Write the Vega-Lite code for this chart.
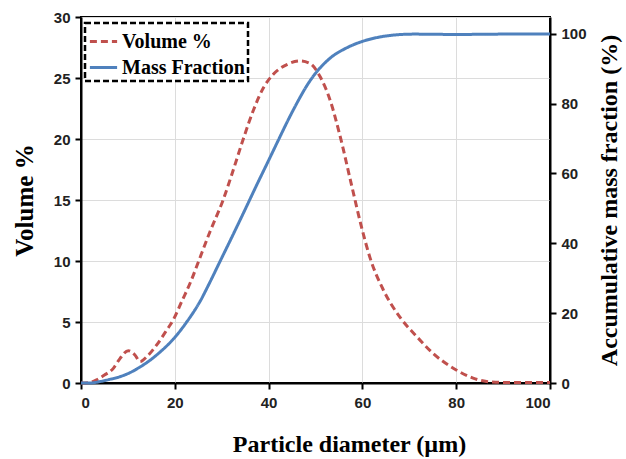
{
  "$schema": "https://vega.github.io/schema/vega-lite/v6.json",
  "width": 469,
  "height": 366,
  "autosize": {"type": "none"},
  "padding": {"left": 81, "top": 17, "right": 76, "bottom": 76},
  "background": "white",
  "config": {
    "view": {"stroke": "black", "strokeWidth": 2},
    "axis": {
      "labelFont": "Liberation Sans", "labelFontWeight": "bold", "labelFontSize": 15, "labelColor": "#222",
      "titleFont": "Liberation Serif", "titleFontWeight": "bold", "titleFontSize": 24, "titleColor": "black",
      "domainColor": "black", "domainWidth": 2, "tickColor": "black", "tickWidth": 2, "tickSize": 6,
      "gridColor": "#dcdcdc", "gridWidth": 1
    },
    "legend": {"strokeColor": "black", "strokeDash": [6, 3], "strokeWidth": 2.5, "fillColor": "white"}
  },
  "data": {"values": [
    {"d": 0, "v": 0, "s": "Volume %"},
    {"d": 2, "v": 0.05, "s": "Volume %"},
    {"d": 3.3, "v": 0.25, "s": "Volume %"},
    {"d": 5, "v": 0.65, "s": "Volume %"},
    {"d": 6.9, "v": 1.2, "s": "Volume %"},
    {"d": 8.3, "v": 2.0, "s": "Volume %"},
    {"d": 10.1, "v": 2.65, "s": "Volume %"},
    {"d": 11.5, "v": 2.3, "s": "Volume %"},
    {"d": 12.6, "v": 1.75, "s": "Volume %"},
    {"d": 14, "v": 2.15, "s": "Volume %"},
    {"d": 16.1, "v": 3.1, "s": "Volume %"},
    {"d": 18.3, "v": 4.35, "s": "Volume %"},
    {"d": 19.7, "v": 5.2, "s": "Volume %"},
    {"d": 21.5, "v": 6.7, "s": "Volume %"},
    {"d": 23.5, "v": 8.4, "s": "Volume %"},
    {"d": 25, "v": 9.9, "s": "Volume %"},
    {"d": 27.5, "v": 12.4, "s": "Volume %"},
    {"d": 30.3, "v": 15.0, "s": "Volume %"},
    {"d": 32.5, "v": 17.5, "s": "Volume %"},
    {"d": 34.6, "v": 20.0, "s": "Volume %"},
    {"d": 36.8, "v": 22.4, "s": "Volume %"},
    {"d": 38.9, "v": 24.2, "s": "Volume %"},
    {"d": 41, "v": 25.3, "s": "Volume %"},
    {"d": 43.9, "v": 26.1, "s": "Volume %"},
    {"d": 46.7, "v": 26.4, "s": "Volume %"},
    {"d": 48.8, "v": 26.2, "s": "Volume %"},
    {"d": 51, "v": 25.1, "s": "Volume %"},
    {"d": 53.1, "v": 23.2, "s": "Volume %"},
    {"d": 55.2, "v": 20.3, "s": "Volume %"},
    {"d": 57.7, "v": 16.2, "s": "Volume %"},
    {"d": 60, "v": 12.5, "s": "Volume %"},
    {"d": 61.6, "v": 10.3, "s": "Volume %"},
    {"d": 64.5, "v": 7.6, "s": "Volume %"},
    {"d": 68, "v": 5.4, "s": "Volume %"},
    {"d": 71.6, "v": 3.8, "s": "Volume %"},
    {"d": 75, "v": 2.45, "s": "Volume %"},
    {"d": 80, "v": 1.07, "s": "Volume %"},
    {"d": 83.6, "v": 0.4, "s": "Volume %"},
    {"d": 86.5, "v": 0.12, "s": "Volume %"},
    {"d": 90, "v": 0.05, "s": "Volume %"},
    {"d": 95, "v": 0.05, "s": "Volume %"},
    {"d": 100, "v": 0.05, "s": "Volume %"},
    {"d": 0, "v": 0, "s": "Mass Fraction"},
    {"d": 2, "v": 0, "s": "Mass Fraction"},
    {"d": 4, "v": 0.4, "s": "Mass Fraction"},
    {"d": 6, "v": 1.0, "s": "Mass Fraction"},
    {"d": 8.3, "v": 1.8, "s": "Mass Fraction"},
    {"d": 10.5, "v": 3.0, "s": "Mass Fraction"},
    {"d": 12.6, "v": 4.6, "s": "Mass Fraction"},
    {"d": 14.7, "v": 6.5, "s": "Mass Fraction"},
    {"d": 16.8, "v": 8.8, "s": "Mass Fraction"},
    {"d": 19.9, "v": 12.9, "s": "Mass Fraction"},
    {"d": 22.5, "v": 17.4, "s": "Mass Fraction"},
    {"d": 25.4, "v": 23.4, "s": "Mass Fraction"},
    {"d": 27.5, "v": 28.9, "s": "Mass Fraction"},
    {"d": 29.6, "v": 34.7, "s": "Mass Fraction"},
    {"d": 32, "v": 41.3, "s": "Mass Fraction"},
    {"d": 35, "v": 49.7, "s": "Mass Fraction"},
    {"d": 37.5, "v": 56.8, "s": "Mass Fraction"},
    {"d": 40.1, "v": 64.0, "s": "Mass Fraction"},
    {"d": 42.1, "v": 69.6, "s": "Mass Fraction"},
    {"d": 44.2, "v": 75.4, "s": "Mass Fraction"},
    {"d": 46.3, "v": 80.8, "s": "Mass Fraction"},
    {"d": 48, "v": 84.8, "s": "Mass Fraction"},
    {"d": 49.5, "v": 87.8, "s": "Mass Fraction"},
    {"d": 51.3, "v": 90.7, "s": "Mass Fraction"},
    {"d": 53.1, "v": 93.0, "s": "Mass Fraction"},
    {"d": 56.7, "v": 96.0, "s": "Mass Fraction"},
    {"d": 60.2, "v": 97.9, "s": "Mass Fraction"},
    {"d": 63.8, "v": 99.1, "s": "Mass Fraction"},
    {"d": 67.3, "v": 99.7, "s": "Mass Fraction"},
    {"d": 71, "v": 99.9, "s": "Mass Fraction"},
    {"d": 80, "v": 99.8, "s": "Mass Fraction"},
    {"d": 90, "v": 99.9, "s": "Mass Fraction"},
    {"d": 100, "v": 99.9, "s": "Mass Fraction"}
  ]},
  "encoding": {
    "x": {"field": "d", "type": "quantitative",
      "scale": {"domain": [0, 100], "nice": false},
      "axis": {"values": [0, 20, 40, 60, 80, 100], "title": "Particle diameter (µm)", "titlePadding": 22, "titleX": 268, "labelPadding": 6}},
    "color": {"field": "s", "type": "nominal",
      "scale": {"domain": ["Volume %", "Mass Fraction"], "range": ["#c0504d", "#4f81bd"]},
      "legend": {"title": null, "orient": "none", "legendX": 4, "legendY": 6,
        "padding": 3, "symbolType": "stroke", "symbolSize": 740, "symbolStrokeWidth": 3,
        "labelFont": "Liberation Serif", "labelFontWeight": "bold", "labelFontSize": 20, "labelColor": "black",
        "labelOffset": 3, "rowPadding": 0, "labelLimit": 300}},
    "strokeDash": {"field": "s", "type": "nominal",
      "scale": {"domain": ["Volume %", "Mass Fraction"], "range": [[7, 4], [1, 0]]},
      "legend": {"title": null, "orient": "none", "legendX": 4, "legendY": 6}}
  },
  "layer": [
    {
      "transform": [{"filter": "datum.s === 'Volume %'"}],
      "mark": {"type": "line", "strokeWidth": 3, "interpolate": "monotone"},
      "encoding": {
        "y": {"field": "v", "type": "quantitative",
          "scale": {"domain": [0, 30], "nice": false},
          "axis": {"values": [0, 5, 10, 15, 20, 25, 30], "title": "Volume %", "titleFontSize": 25, "titlePadding": 16, "labelPadding": 5}}
      }
    },
    {
      "transform": [{"filter": "datum.s === 'Mass Fraction'"}],
      "mark": {"type": "line", "strokeWidth": 3, "interpolate": "monotone"},
      "encoding": {
        "y": {"field": "v", "type": "quantitative",
          "scale": {"domain": [0, 104.8], "nice": false},
          "axis": {"orient": "right", "values": [0, 20, 40, 60, 80, 100], "grid": false, "title": "Accumulative mass fraction (%)", "titleFontSize": 24, "titleAngle": 270, "titlePadding": 35, "labelPadding": 5}}
      }
    }
  ],
  "resolve": {"scale": {"y": "independent"}}
}
